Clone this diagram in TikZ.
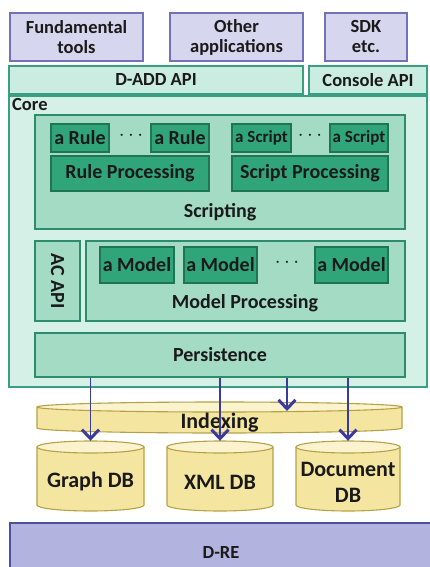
\documentclass[tikz,border=0pt]{standalone}
\usepackage{fontspec}
\setmainfont{Carlito}
\usetikzlibrary{arrows.meta}

\definecolor{lavfill}{HTML}{D6D6EE}
\definecolor{lavline}{HTML}{7272B8}
\definecolor{drefill}{HTML}{B3B3DF}
\definecolor{dreline}{HTML}{4F4FA0}
\definecolor{corefill}{HTML}{D5F0E7}
\definecolor{coreline}{HTML}{3A9E80}
\definecolor{apifill}{HTML}{CBEDE1}
\definecolor{midfill}{HTML}{A3DBC5}
\definecolor{midline}{HTML}{2C8C6C}
\definecolor{darkfill}{HTML}{30A57A}
\definecolor{darkline}{HTML}{1F7453}
\definecolor{dbfill}{HTML}{F4E6A0}
\definecolor{dbtopfill}{HTML}{FBF3CE}
\definecolor{dbline}{HTML}{B5A246}
\definecolor{arrowc}{HTML}{3B3B9E}
\definecolor{inkc}{HTML}{1A1A1A}

% database drum: name, x1, y1, x2, y2, ry, text
\newcommand\dbdrum[7]{%
  \pgfmathsetmacro\drx{(#4-#2)/2}%
  \pgfmathsetmacro\dcx{(#4+#2)/2}%
  \pgfmathsetmacro\dcy{(#3+#5)/2}%
  \fill[dbfill] (#2,#3+#6) -- (#2,#5-#6) arc[start angle=180,end angle=0,x radius=\drx,y radius=#6] -- (#4,#3+#6) -- cycle;
  \draw[dbedge] (#2,#3+#6) -- (#2,#5-#6) arc[start angle=180,end angle=0,x radius=\drx,y radius=#6] -- (#4,#3+#6);
  \filldraw[dbedge,fill=dbtopfill] (\dcx,#3+#6) ellipse[x radius=\drx,y radius=#6];
  \node[minimum width=#4-#2, minimum height=#5-#3, inner sep=0pt] (#1) at (\dcx,\dcy) {};
  \node[dbtext] (#1-label) at (\dcx,\dcy+#6) {#7};
}

\begin{document}
\begin{tikzpicture}[x=1pt,y=-1pt,
  every node/.style={inner sep=0pt, text=inkc, font=\bfseries\fontsize{20}{22}\selectfont},
  lavbox/.style={draw=lavline, fill=lavfill, line width=1.2pt, align=center,
    font=\bfseries\fontsize{18.5}{20}\selectfont},
  apibox/.style={draw=coreline, fill=apifill, line width=1.2pt,
    font=\bfseries\fontsize{18.5}{20}\selectfont},
  corebox/.style={draw=coreline, fill=corefill, line width=1.2pt},
  midbox/.style={draw=midline, fill=midfill, line width=1.2pt},
  darkbox/.style={draw=darkline, fill=darkfill, line width=1.2pt},
  dbedge/.style={draw=dbline, line width=1.1pt},
  dbtext/.style={align=center, font=\bfseries\fontsize{22}{26}\selectfont},
  dotsep/.style={font=\bfseries\fontsize{20}{22}\selectfont},
  arr/.style={draw=arrowc, line width=1.4pt,
    -{Straight Barb[length=9pt,width=17pt,line width=3pt]}}
]
\useasboundingbox (0,0) rectangle (429,567);

% clients
\node[lavbox, minimum width=133pt, minimum height=48pt] (ft) at (76.5,37) {Fundamental\\tools};
\node[lavbox, minimum width=133pt, minimum height=48pt] (oa) at (236.5,37) {Other\\applications};
\node[lavbox, minimum width=82pt, minimum height=48pt] (sdk) at (366,37) {SDK\\etc.};

% APIs
\node[apibox, minimum width=294pt, minimum height=28pt] (dadd) at (156,80) {D-ADD API};
\node[apibox, minimum width=118pt, minimum height=28pt] (cons) at (368,80) {Console API};

% core
\node[corebox, minimum width=418pt, minimum height=291pt] (core) at (218,241.5) {};
\node[anchor=west, font=\bfseries\fontsize{18.5}{20}\selectfont] (corelbl) at (12,105) {Core};

% scripting
\node[midbox, minimum width=370pt, minimum height=114pt] (scr) at (220,172) {};
\node (scrlbl) at (220,212) {Scripting};
\node[darkbox, minimum width=58pt, minimum height=28pt] (rule1) at (80,138) {a Rule};
\node[dotsep] (rdots) at (131,136) {$\cdots$};
\node[darkbox, minimum width=58pt, minimum height=28pt] (rule2) at (180,138) {a Rule};
\node[darkbox, minimum width=158pt, minimum height=35pt] (rproc) at (130,173.5) {Rule Processing};
\node[darkbox, minimum width=59pt, minimum height=28pt, font=\bfseries\fontsize{17}{19}\selectfont] (scr1) at (261.5,138) {a Script};
\node[dotsep] (sdots) at (310,136) {$\cdots$};
\node[darkbox, minimum width=58pt, minimum height=28pt, font=\bfseries\fontsize{17}{19}\selectfont] (scr2) at (359,138) {a Script};
\node[darkbox, minimum width=156pt, minimum height=35pt] (sproc) at (310,173.5) {Script Processing};

% access control and models
\node[midbox, minimum width=45pt, minimum height=80pt] (acapi) at (57.5,281) {};
\node[rotate=-90] (aclbl) at (57.5,281) {AC API};
\node[midbox, minimum width=319pt, minimum height=80pt] (mproc) at (245.5,281) {};
\node (mproclbl) at (245,303) {Model Processing};
\node[darkbox, minimum width=74pt, minimum height=36pt] (model1) at (137,265) {a Model};
\node[darkbox, minimum width=73pt, minimum height=36pt] (model2) at (220.5,265) {a Model};
\node[dotsep] (mdots) at (287,263) {$\cdots$};
\node[darkbox, minimum width=73pt, minimum height=36pt] (model3) at (351.5,265) {a Model};

% persistence
\node[midbox, minimum width=370pt, minimum height=44pt] (pers) at (220,355) {Persistence};

% storage
\dbdrum{idx}{37}{402}{402}{433}{5}{Indexing}
\dbdrum{gdb}{37}{441}{144}{511}{6}{Graph DB}
\dbdrum{xdb}{167}{441}{273}{511}{6}{XML DB}
\dbdrum{ddb}{296}{441}{400}{511}{6}{Document\\DB}

\coordinate (idxin) at (287,411);
\draw[arr] (pers.south -| gdb.north) -- (gdb.north);
\draw[arr] (pers.south -| xdb.north) -- (xdb.north);
\draw[arr] (pers.south -| idxin) -- (idxin);
\draw[arr] (pers.south -| ddb.north) -- (ddb.north);

% runtime
\node[draw=dreline, fill=drefill, line width=1.2pt, minimum width=424pt, minimum height=50pt] (dre) at (222,548) {};
\node[font=\bfseries\fontsize{18.5}{20}\selectfont] (drelbl) at (221,552) {D-RE};
\end{tikzpicture}
\end{document}
